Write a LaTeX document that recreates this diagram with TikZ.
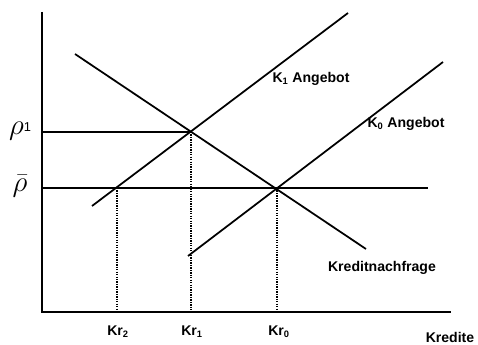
\documentclass[tikz,border=0pt]{standalone}
\usepackage{fontspec}
\setmainfont{Liberation Sans}
\usetikzlibrary{positioning}
\begin{document}
\begin{tikzpicture}[
    x=0.03cm, y=-0.03cm,
    axis/.style={line width=1.6pt},
    curve/.style={line width=1.5pt},
    guide/.style={line width=1.1pt, densely dotted},
    lbl/.style={font=\bfseries\fontsize{12}{14}\selectfont, inner sep=0pt},
    sym/.style={font=\fontsize{24}{24}\selectfont, inner sep=0pt}
]
    \useasboundingbox (0,0) rectangle (478,345);

    % axes
    \coordinate (origin) at (42,312);
    \coordinate (ytop) at (42,12);
    \coordinate (xend) at (451,312);
    \draw[axis] (ytop) -- (origin) -- (xend);

    % curves
    \coordinate (k1start) at (92,206);
    \coordinate (k1end) at (348,13);
    \coordinate (k0start) at (188,256);
    \coordinate (k0end) at (443,62);
    \coordinate (dstart) at (75,54);
    \coordinate (dend) at (366,249);
    \draw[curve] (k1start) -- (k1end);
    \draw[curve] (k0start) -- (k0end);
    \draw[curve] (dstart) -- (dend);

    % equilibria
    \coordinate (e1) at (191,132);
    \coordinate (e0) at (277,188);
    \coordinate (e2) at (117,188);
    \coordinate (rhoend) at (428,188);

    % interest levels
    \node[sym] (rho1) at (20,131) {$\rho$\raisebox{0.2ex}{\fontsize{11}{11}\selectfont 1}};
    \node[sym] (rhobar) at (20,186) {$\bar{\rho}$};
    \draw[curve] (e1 -| origin) -- (e1);
    \draw[curve] (e0 -| origin) -- (rhoend);

    % credit volumes
    \node[lbl] (kr2) at (118,332) {Kr\textsubscript{2}};
    \node[lbl] (kr1) at (192,332) {Kr\textsubscript{1}};
    \node[lbl] (kr0) at (279,332) {Kr\textsubscript{0}};
    \node[lbl] (kredite) at (450,337) {Kredite};
    \draw[guide] (e2) -- (e2 |- origin);
    \draw[guide] (e1) -- (e1 |- origin);
    \draw[guide] (e0) -- (e0 |- origin);

    % curve labels
    \node[lbl] (k1lbl) at (311,79) {K\textsubscript{1} Angebot};
    \node[lbl] (k0lbl) at (406,124) {K\textsubscript{0} Angebot};
    \node[lbl] (dlbl) at (382,268) {Kreditnachfrage};
\end{tikzpicture}
\end{document}
